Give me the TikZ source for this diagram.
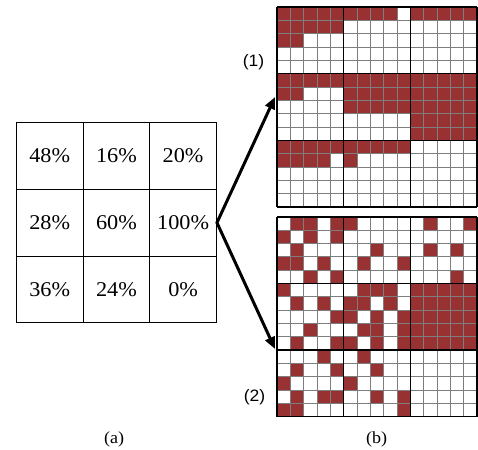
\documentclass[tikz,border=0pt]{standalone}
\usepackage{graphicx}
\usepackage{fontspec}
\setmainfont{Liberation Serif}
\newfontfamily\arialf{Liberation Sans}
\usetikzlibrary{arrows.meta}
\definecolor{cellred}{RGB}{152,50,50}
\definecolor{gridgray}{RGB}{125,125,125}
\newcommand\widetxt[1]{\scalebox{1.06}[1]{#1}}
\tikzset{
  pctcell/.style={draw, line width=1pt, minimum width=66.7pt, minimum height=66.7pt, inner sep=0pt, font=\fontsize{21}{25}\selectfont},
  bigarrow/.style={line width=3pt, line join=miter, {Triangle[length=12pt,width=10pt]}-{Triangle[length=12pt,width=10pt]}},
  sublabel/.style={inner sep=0pt, font=\fontsize{17}{20}\selectfont},
  numlabel/.style={inner sep=0pt, font=\arialf\fontsize{16.5}{19}\selectfont},
  thinline/.style={draw=gridgray, line width=0.8pt},
  blockline/.style={draw=black, line width=1.6pt},
}
\def\cz{13.33}
\newcommand\cellgrid[3]{%
  \begin{scope}[shift={(#1,#2)}]
    \foreach \rr/\rowcells in {#3} {
      \foreach \cc in \rowcells {
        \fill[cellred] (\cc*\cz,\rr*\cz) rectangle ++(\cz,\cz);
      }
    }
    \foreach \i in {1,2,3,4,6,7,8,9,11,12,13,14} {
      \draw[thinline] (\i*\cz,0) -- (\i*\cz,15*\cz);
      \draw[thinline] (0,\i*\cz) -- (15*\cz,\i*\cz);
    }
    \foreach \i in {0,5,10,15} {
      \draw[blockline] (\i*\cz,0) -- (\i*\cz,15*\cz);
      \draw[blockline] (0,\i*\cz) -- (15*\cz,\i*\cz);
    }
  \end{scope}%
}
\begin{document}
\begin{tikzpicture}[x=1pt,y=-1pt]
  \useasboundingbox (0,0) rectangle (478,449);
  % table
  \node[pctcell] (t11) at (49.7,156.0) {\widetxt{48\%}};
  \node[pctcell] (t12) at (116.4,156.0) {\widetxt{16\%}};
  \node[pctcell] (t13) at (183.1,156.0) {\widetxt{20\%}};
  \node[pctcell] (t21) at (49.7,222.7) {\widetxt{28\%}};
  \node[pctcell] (t22) at (116.4,222.7) {\widetxt{60\%}};
  \node[pctcell] (t23) at (183.1,222.7) {\widetxt{100\%}};
  \node[pctcell] (t31) at (49.7,289.4) {\widetxt{36\%}};
  \node[pctcell] (t32) at (116.4,289.4) {\widetxt{24\%}};
  \node[pctcell] (t33) at (183.1,289.4) {\widetxt{0\%}};
  % grid (1)
  \cellgrid{277}{7}{0/{0,1,2,3,4,5,6,7,8,10,11,12,13,14},
    1/{0,1,2,3,4}, 2/{0,1},
    5/{0,1,2,3,4,5,6,7,8,9,10,11,12,13,14},
    6/{0,1,5,6,7,8,9,10,11,12,13,14},
    7/{5,6,7,8,9,10,11,12,13,14},
    8/{10,11,12,13,14}, 9/{10,11,12,13,14},
    10/{0,1,2,3,4,5,6,7,8,9}, 11/{0,1,2,3,5}}
  % grid (2)
  \cellgrid{277}{216.7}{0/{1,2,4,5,11,14}, 1/{0,2,4}, 2/{1,7,11,13},
    3/{0,1,3,6,9}, 4/{2,4,13},
    5/{0,6,7,8,10,11,12,13,14},
    6/{1,3,5,6,8,10,11,12,13,14},
    7/{4,5,7,9,10,11,12,13,14},
    8/{2,6,7,9,10,11,12,13,14},
    9/{1,4,5,7,9,10,11,12,13,14},
    10/{3,6}, 11/{1,4,7}, 12/{0,5}, 13/{1,3,4,7,9}, 14/{0,1,9}}
  % arrows
  \coordinate (tipA) at (275,97);
  \coordinate (tipB) at (275,349);
  \draw[bigarrow] (tipA) -- (t23.east) -- (tipB);
  % labels
  \node[numlabel] (l1) at (253.5,62.5) {\widetxt{(1)}};
  \node[numlabel] (l2) at (254.5,397.5) {\widetxt{(2)}};
  \node[sublabel] (la) at (114,439) {\widetxt{(a)}};
  \node[sublabel] (lb) at (376.7,439) {\widetxt{(b)}};
\end{tikzpicture}
\end{document}
